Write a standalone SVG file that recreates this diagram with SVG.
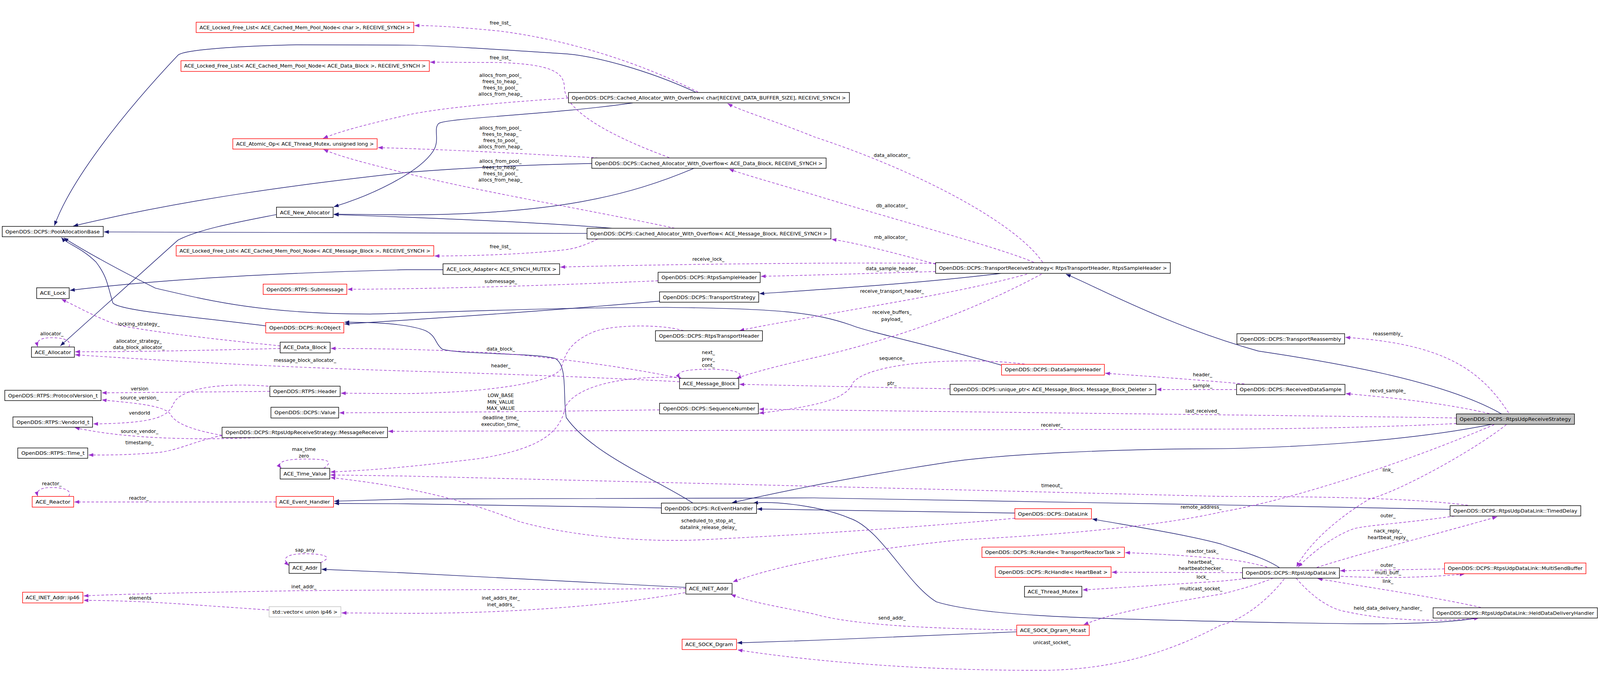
<svg xmlns="http://www.w3.org/2000/svg" width="4323" height="1770" viewBox="0 0 4323 1770" style="width:100%;height:100%" preserveAspectRatio="xMidYMid meet">
<style>
rect{fill:#fff;stroke:#000;stroke-width:1.5}
.r rect{stroke:#ff0000}
.g rect{fill:#bfbfbf}
.v rect{stroke:#bfbfbf}
text{font-family:"DejaVu Sans","Liberation Sans",sans-serif;font-size:13px;text-anchor:middle;fill:#000}
.i{fill:none;stroke:#191970;stroke-width:1.5;marker-end:url(#ab)}
.u{fill:none;stroke:#9a32cd;stroke-width:1.5;stroke-dasharray:7,5;marker-end:url(#ap)}
</style>
<defs>
<marker id="ab" markerWidth="14" markerHeight="10" refX="13" refY="5" orient="auto" markerUnits="userSpaceOnUse"><path d="M0,0L13,5L0,10z" fill="#191970"/></marker>
<marker id="ap" markerWidth="14" markerHeight="10" refX="13" refY="5" orient="auto" markerUnits="userSpaceOnUse"><path d="M0,0L13,5L0,10z" fill="#9a32cd"/></marker>
</defs>
<rect x="0" y="0" width="4323" height="1770" style="fill:#fff;stroke:none"/>
<g id="edges">
<path class="i" d="M1879,200 C1750,140 1600,100 1521,96 C1350,85 1200,75 1100,73 L800,72 C550,78 490,92 481,100 C330,260 190,440 147,561"/>
<path class="i" d="M1710,229 C1500,260 1200,270 1185,285 C1170,300 1190,330 1170,360 C1130,420 1000,480 902,510"/>
<path class="i" d="M1599,393 C1400,397 1250,405 1100,417 C800,450 500,490 198,562"/>
<path class="i" d="M1875,406 C1700,480 1500,530 1100,532 L902,530"/>
<path class="i" d="M1654,568 C1500,555 1250,543 902,531"/>
<path class="i" d="M1586,582 L281,578"/>
<path class="i" d="M747,531 C640,552 540,570 481,600 L163,886"/>
<path class="i" d="M1197,680 L1100,680 C700,690 400,710 189,736"/>
<path class="i" d="M718,832 C500,805 320,790 305,770 C290,720 290,700 260,660 C220,620 180,610 166,593"/>
<path class="i" d="M2705,938 C2500,880 2350,850 2300,830 C2200,795 2100,785 1800,782 C1500,782 1200,795 1000,800 C700,800 550,760 420,730 C320,680 230,630 172,594"/>
<path class="i" d="M1782,765 C1500,790 1200,810 931,827"/>
<path class="i" d="M1872,1311 C1780,1250 1600,1180 1530,1080 C1520,1020 1535,940 1500,920 C1450,905 1250,910 1195,895 C1175,880 1180,860 1150,845 C1100,825 1000,822 931,822"/>
<path class="i" d="M2705,690 C2500,715 2300,728 2052,745"/>
<path class="i" d="M4057,1070 C3900,980 3600,930 3400,900 C3150,830 2950,720 2880,692"/>
<path class="i" d="M4031,1098 C3800,1145 3500,1160 3300,1164 C3000,1164 2700,1180 2565,1200 C2400,1225 2200,1260 1978,1310"/>
<path class="i" d="M1787,1324 L1100,1313 L903,1312"/>
<path class="i" d="M3918,1328 L3300,1316 L2200,1297 L1100,1300 L903,1306"/>
<path class="i" d="M2742,1338 L2046,1327"/>
<path class="i" d="M3992,1622 C3850,1645 3600,1637 3300,1631 C2900,1622 2650,1615 2530,1578 C2450,1530 2380,1380 2296,1352 C2220,1320 2100,1305 2035,1311"/>
<path class="i" d="M3457,1486 C3420,1460 3350,1440 3300,1422 C3200,1395 3050,1372 2951,1354"/>
<path class="i" d="M1853,1539 L1100,1500 L869,1490"/>
<path class="i" d="M2747,1659 L2200,1682 L1992,1689"/>

<path class="u" d="M1886,200 C1750,130 1550,60 1350,35 C1250,25 1180,20 1120,20"/>
<path class="u" d="M1808,377 C1680,330 1530,260 1525,190 C1525,150 1500,125 1350,120 L1162,119"/>
<path class="u" d="M1615,597 C1570,620 1540,625 1520,627 C1400,640 1250,643 1174,643"/>
<path class="u" d="M1536,216 C1400,225 1200,240 1100,262 C1000,285 920,305 873,325"/>
<path class="u" d="M1616,378 C1400,365 1200,355 1021,350"/>
<path class="u" d="M1823,568 C1600,520 1300,470 1100,420 C1000,395 920,375 874,355"/>
<path class="u" d="M2817,660 C2750,560 2500,420 2200,321 C2100,280 2000,250 1966,231"/>
<path class="u" d="M2793,660 C2700,620 2400,540 2200,478 C2100,448 2000,420 1970,408"/>
<path class="u" d="M2528,665 C2400,630 2300,605 2247,598"/>
<path class="u" d="M2528,663 C2300,660 1800,665 1514,673"/>
<path class="u" d="M2528,685 C2350,690 2200,695 2056,698"/>
<path class="u" d="M2775,692 C2600,740 2400,770 2200,807 C2100,825 2040,835 1998,845"/>
<path class="u" d="M2814,692 C2650,780 2450,860 2200,918 C2100,940 2020,962 1990,974"/>
<path class="u" d="M1778,710 C1500,722 1200,732 939,733"/>
<path class="u" d="M1847,845 C1780,825 1640,830 1600,850 C1530,880 1525,920 1515,950 C1480,990 1300,1012 1100,1015 L921,1014"/>
<path class="u" d="M1840,974 C1700,945 1550,925 1400,910 C1200,895 1000,893 894,893"/>
<path class="u" d="M1836,983 C1600,970 1300,960 1100,954 C800,945 500,930 203,910"/>
<path class="u" d="M1991,974 C2010,962 2000,950 1914,949 C1840,950 1825,958 1838,974"/>
<path class="u" d="M1840,972 C1700,965 1560,990 1528,1050 C1515,1110 1480,1160 1300,1190 C1100,1215 1000,1222 893,1227"/>
<path class="u" d="M1782,1059 C1500,1063 1200,1066 917,1067"/>
<path class="u" d="M2768,935 C2600,915 2350,930 2305,985 C2290,1020 2250,1045 2051,1068"/>
<path class="u" d="M2567,1002 C2300,997 2150,993 1998,990"/>
<path class="u" d="M3362,989 C3200,975 3100,968 2986,960"/>
<path class="u" d="M3341,1004 L3125,1004"/>
<path class="u" d="M3935,1081 C3600,1075 2600,1065 2051,1057"/>
<path class="u" d="M3935,1096 C3700,1108 3400,1111 3300,1111 L1049,1117"/>
<path class="u" d="M4076,1067 C4000,950 3900,880 3635,863"/>
<path class="u" d="M4024,1069 C3900,1040 3750,1025 3636,1015"/>
<path class="u" d="M4070,1099 C3980,1170 3780,1280 3700,1300 C3600,1360 3530,1430 3503,1484"/>
<path class="u" d="M4037,1099 C3800,1200 3500,1300 3300,1335 C3100,1380 2800,1400 2600,1410 C2300,1440 2100,1480 1980,1524"/>
<path class="u" d="M757,886 C600,870 420,850 320,830 C260,810 210,780 166,760"/>
<path class="u" d="M757,893 C600,897 400,902 203,902"/>
<path class="u" d="M186,889 C195,870 170,864 140,864 C105,864 98,874 102,889"/>
<path class="u" d="M729,1009 L275,1013"/>
<path class="u" d="M725,995 C600,985 490,1000 470,1040 C455,1075 430,1095 252,1097"/>
<path class="u" d="M600,1128 C500,1110 470,1090 460,1070 C440,1045 350,1040 275,1032"/>
<path class="u" d="M701,1134 C550,1140 350,1140 202,1107"/>
<path class="u" d="M600,1128 C520,1145 480,1170 420,1175 C330,1182 280,1181 239,1181"/>
<path class="u" d="M875,1217 C905,1195 880,1192 824,1192 C770,1192 745,1200 760,1217"/>
<path class="u" d="M3966,1317 C3800,1295 3500,1293 3300,1293 L1100,1238 L893,1235"/>
<path class="u" d="M2742,1352 C2500,1375 2200,1395 1900,1410 C1700,1420 1500,1390 1400,1360 C1250,1300 1100,1265 893,1242"/>
<path class="u" d="M746,1308 L201,1308"/>
<path class="u" d="M186,1293 C195,1275 170,1269 140,1269 C105,1269 98,1279 102,1293"/>
<path class="u" d="M866,1472 C905,1455 870,1448 824,1448 C770,1448 760,1462 781,1480"/>
<path class="u" d="M1853,1542 C1500,1545 1100,1545 800,1548 C500,1553 300,1558 226,1562"/>
<path class="u" d="M727,1600 C500,1585 400,1575 226,1574"/>
<path class="u" d="M1851,1553 C1650,1590 1350,1610 1100,1609 L923,1608"/>
<path class="u" d="M2747,1654 C2500,1650 2300,1640 2200,1611 C2100,1590 2030,1580 1975,1558"/>
<path class="u" d="M3470,1516 C3420,1580 3350,1630 3300,1640 C3150,1720 3000,1760 2830,1763 C2500,1765 2200,1740 1993,1708"/>
<path class="u" d="M3440,1514 C3400,1530 3350,1545 3300,1557 C3100,1590 3000,1610 2928,1640"/>
<path class="u" d="M3378,1514 C3340,1518 3320,1520 3300,1522 L2925,1546"/>
<path class="u" d="M3357,1499 L3004,1498"/>
<path class="u" d="M3424,1484 C3380,1472 3340,1465 3300,1462 C3200,1452 3100,1447 3040,1445"/>
<path class="u" d="M3930,1346 C3800,1365 3700,1370 3659,1380 C3600,1400 3540,1450 3507,1484"/>
<path class="u" d="M3558,1485 C3700,1440 3900,1390 4045,1348"/>
<path class="u" d="M3903,1489 L3621,1494"/>
<path class="u" d="M3623,1509 C3750,1515 3850,1512 3957,1503"/>
<path class="u" d="M4001,1593 C3850,1560 3700,1540 3560,1515"/>
<path class="u" d="M3502,1514 C3550,1570 3600,1600 3640,1605 C3750,1630 3900,1632 3996,1622"/>
</g>
<g id="edge-labels">
<text x="1352" y="17">free_list_</text>
<text x="1352" y="111">free_list_</text>
<text x="1352" y="622">free_list_</text>
<text x="1352" y="159">allocs_from_pool_<tspan x="1352" dy="17">frees_to_heap_</tspan><tspan x="1352" dy="17">frees_to_pool_</tspan><tspan x="1352" dy="17">allocs_from_heap_</tspan></text>
<text x="1352" y="301">allocs_from_pool_<tspan x="1352" dy="17">frees_to_heap_</tspan><tspan x="1352" dy="17">frees_to_pool_</tspan><tspan x="1352" dy="17">allocs_from_heap_</tspan></text>
<text x="1352" y="391">allocs_from_pool_<tspan x="1352" dy="17">frees_to_heap_</tspan><tspan x="1352" dy="17">frees_to_pool_</tspan><tspan x="1352" dy="17">allocs_from_heap_</tspan></text>
<text x="2410" y="375">data_allocator_</text>
<text x="2410" y="511">db_allocator_</text>
<text x="2407" y="597">mb_allocator_</text>
<text x="1914" y="656">receive_lock_</text>
<text x="2410" y="681">data_sample_header_</text>
<text x="1353" y="716">submessage_</text>
<text x="2410" y="743">receive_transport_header_</text>
<text x="2410" y="800">receive_buffers_<tspan x="2410" dy="18">payload_</tspan></text>
<text x="375" y="831">locking_strategy_</text>
<text x="140" y="858">allocator_</text>
<text x="375" y="878">allocator_strategy_<tspan x="375" dy="17">data_block_allocator_</tspan></text>
<text x="1353" y="899">data_block_</text>
<text x="1914" y="908">next_<tspan x="1914" dy="18">prev_</tspan><tspan x="1914" dy="17">cont_</tspan></text>
<text x="2410" y="924">sequence_</text>
<text x="824" y="929">message_block_allocator_</text>
<text x="1353" y="944">header_</text>
<text x="3249" y="968">header_</text>
<text x="2410" y="992">ptr_</text>
<text x="3249" y="998">sample_</text>
<text x="377" y="1006">version</text>
<text x="3750" y="858">reassembly_</text>
<text x="3750" y="1012">recvd_sample_</text>
<text x="1353" y="1024">LOW_BASE<tspan x="1353" dy="18">MIN_VALUE</tspan><tspan x="1353" dy="17">MAX_VALUE</tspan></text>
<text x="377" y="1031">source_version_</text>
<text x="3249" y="1067">last_received_</text>
<text x="377" y="1072">vendorId</text>
<text x="1353" y="1084">deadline_time_<tspan x="1353" dy="18">execution_time_</tspan></text>
<text x="2842" y="1105">receiver_</text>
<text x="377" y="1121">source_vendor_</text>
<text x="377" y="1152">timestamp_</text>
<text x="821" y="1170">max_time<tspan x="821" dy="18">zero</tspan></text>
<text x="3750" y="1226">link_</text>
<text x="140" y="1263">reactor_</text>
<text x="2842" y="1268">timeout_</text>
<text x="375" y="1302">reactor_</text>
<text x="3245" y="1326">remote_address_</text>
<text x="3750" y="1349">outer_</text>
<text x="1914" y="1363">scheduled_to_stop_at_<tspan x="1914" dy="18">datalink_release_delay_</tspan></text>
<text x="3750" y="1391">nack_reply_<tspan x="3750" dy="18">heartbeat_reply_</tspan></text>
<text x="824" y="1442">sap_any</text>
<text x="3249" y="1445">reactor_task_</text>
<text x="3245" y="1475">heartbeat_<tspan x="3245" dy="17">heartbeatchecker_</tspan></text>
<text x="3750" y="1483">outer_</text>
<text x="3750" y="1504">multi_buff_</text>
<text x="3249" y="1515">lock_</text>
<text x="3750" y="1527">link_</text>
<text x="821" y="1542">inet_addr_</text>
<text x="3245" y="1547">multicast_socket_</text>
<text x="379" y="1572">elements</text>
<text x="1353" y="1572">inet_addrs_iter_<tspan x="1353" dy="18">inet_addrs_</tspan></text>
<text x="3750" y="1600">held_data_delivery_handler_</text>
<text x="2410" y="1626">send_addr_</text>
<text x="2842" y="1692">unicast_socket_</text>
</g>
<g id="n1" class="r"><rect x="530" y="11" width="588" height="28"/><text x="824" y="30" textLength="570" lengthAdjust="spacingAndGlyphs">ACE_Locked_Free_List&lt; ACE_Cached_Mem_Pool_Node&lt; char &gt;, RECEIVE_SYNCH &gt;</text></g>
<g id="n2" class="r"><rect x="489" y="115" width="671" height="29"/><text x="824" y="134" textLength="653" lengthAdjust="spacingAndGlyphs">ACE_Locked_Free_List&lt; ACE_Cached_Mem_Pool_Node&lt; ACE_Data_Block &gt;, RECEIVE_SYNCH &gt;</text></g>
<g id="n3" class="r"><rect x="629" y="326" width="390" height="28"/><text x="824" y="345" textLength="372" lengthAdjust="spacingAndGlyphs">ACE_Atomic_Op&lt; ACE_Thread_Mutex, unsigned long &gt;</text></g>
<g id="n4"><rect x="747" y="511" width="153" height="28"/><text x="824" y="530" textLength="135" lengthAdjust="spacingAndGlyphs">ACE_New_Allocator</text></g>
<g id="n5"><rect x="6" y="563" width="273" height="28"/><text x="142" y="582" textLength="255" lengthAdjust="spacingAndGlyphs">OpenDDS::DCPS::PoolAllocationBase</text></g>
<g id="n6"><rect x="1536" y="201" width="759" height="28"/><text x="1915" y="220" textLength="741" lengthAdjust="spacingAndGlyphs">OpenDDS::DCPS::Cached_Allocator_With_Overflow&lt; char[RECEIVE_DATA_BUFFER_SIZE], RECEIVE_SYNCH &gt;</text></g>
<g id="n7"><rect x="1599" y="378" width="633" height="28"/><text x="1915" y="397" textLength="615" lengthAdjust="spacingAndGlyphs">OpenDDS::DCPS::Cached_Allocator_With_Overflow&lt; ACE_Data_Block, RECEIVE_SYNCH &gt;</text></g>
<g id="n8"><rect x="1586" y="568" width="659" height="29"/><text x="1915" y="587" textLength="641" lengthAdjust="spacingAndGlyphs">OpenDDS::DCPS::Cached_Allocator_With_Overflow&lt; ACE_Message_Block, RECEIVE_SYNCH &gt;</text></g>
<g id="n9" class="r"><rect x="476" y="615" width="696" height="28"/><text x="824" y="634" textLength="678" lengthAdjust="spacingAndGlyphs">ACE_Locked_Free_List&lt; ACE_Cached_Mem_Pool_Node&lt; ACE_Message_Block &gt;, RECEIVE_SYNCH &gt;</text></g>
<g id="n10"><rect x="99" y="729" width="88" height="29"/><text x="143" y="748" textLength="70" lengthAdjust="spacingAndGlyphs">ACE_Lock</text></g>
<g id="n11"><rect x="85" y="889" width="116" height="28"/><text x="143" y="908" textLength="98" lengthAdjust="spacingAndGlyphs">ACE_Allocator</text></g>
<g id="n12" class="r"><rect x="718" y="823" width="211" height="28"/><text x="824" y="842" textLength="193" lengthAdjust="spacingAndGlyphs">OpenDDS::DCPS::RcObject</text></g>
<g id="n13"><rect x="757" y="876" width="135" height="29"/><text x="824" y="895" textLength="117" lengthAdjust="spacingAndGlyphs">ACE_Data_Block</text></g>
<g id="n14" class="r"><rect x="711" y="719" width="226" height="28"/><text x="824" y="738" textLength="208" lengthAdjust="spacingAndGlyphs">OpenDDS::RTPS::Submessage</text></g>
<g id="n15"><rect x="13" y="1006" width="260" height="28"/><text x="143" y="1025" textLength="242" lengthAdjust="spacingAndGlyphs">OpenDDS::RTPS::ProtocolVersion_t</text></g>
<g id="n16"><rect x="729" y="995" width="190" height="28"/><text x="824" y="1014" textLength="172" lengthAdjust="spacingAndGlyphs">OpenDDS::RTPS::Header</text></g>
<g id="n17"><rect x="732" y="1052" width="183" height="29"/><text x="824" y="1071" textLength="165" lengthAdjust="spacingAndGlyphs">OpenDDS::DCPS::Value</text></g>
<g id="n18"><rect x="35" y="1078" width="215" height="28"/><text x="143" y="1097" textLength="197" lengthAdjust="spacingAndGlyphs">OpenDDS::RTPS::VendorId_t</text></g>
<g id="n19"><rect x="600" y="1106" width="447" height="28"/><text x="824" y="1125" textLength="429" lengthAdjust="spacingAndGlyphs">OpenDDS::DCPS::RtpsUdpReceiveStrategy::MessageReceiver</text></g>
<g id="n20"><rect x="48" y="1162" width="189" height="28"/><text x="143" y="1181" textLength="171" lengthAdjust="spacingAndGlyphs">OpenDDS::RTPS::Time_t</text></g>
<g id="n21"><rect x="1197" y="664" width="315" height="29"/><text x="1355" y="683" textLength="297" lengthAdjust="spacingAndGlyphs">ACE_Lock_Adapter&lt; ACE_SYNCH_MUTEX &gt;</text></g>
<g id="n22"><rect x="1778" y="687" width="276" height="28"/><text x="1916" y="706" textLength="258" lengthAdjust="spacingAndGlyphs">OpenDDS::DCPS::RtpsSampleHeader</text></g>
<g id="n23"><rect x="1782" y="740" width="268" height="28"/><text x="1916" y="759" textLength="250" lengthAdjust="spacingAndGlyphs">OpenDDS::DCPS::TransportStrategy</text></g>
<g id="n24"><rect x="1771" y="845" width="289" height="28"/><text x="1916" y="864" textLength="271" lengthAdjust="spacingAndGlyphs">OpenDDS::DCPS::RtpsTransportHeader</text></g>
<g id="n25"><rect x="1836" y="974" width="160" height="28"/><text x="1916" y="993" textLength="142" lengthAdjust="spacingAndGlyphs">ACE_Message_Block</text></g>
<g id="n26"><rect x="1782" y="1041" width="267" height="29"/><text x="1916" y="1060" textLength="249" lengthAdjust="spacingAndGlyphs">OpenDDS::DCPS::SequenceNumber</text></g>
<g id="n27"><rect x="2528" y="661" width="634" height="29"/><text x="2845" y="680" textLength="616" lengthAdjust="spacingAndGlyphs">OpenDDS::DCPS::TransportReceiveStrategy&lt; RtpsTransportHeader, RtpsSampleHeader &gt;</text></g>
<g id="n28" class="r"><rect x="2706" y="936" width="278" height="29"/><text x="2845" y="955" textLength="260" lengthAdjust="spacingAndGlyphs">OpenDDS::DCPS::DataSampleHeader</text></g>
<g id="n29"><rect x="2567" y="990" width="556" height="28"/><text x="2845" y="1009" textLength="538" lengthAdjust="spacingAndGlyphs">OpenDDS::DCPS::unique_ptr&lt; ACE_Message_Block, Message_Block_Deleter &gt;</text></g>
<g id="n30"><rect x="3342" y="853" width="291" height="28"/><text x="3487" y="872" textLength="273" lengthAdjust="spacingAndGlyphs">OpenDDS::DCPS::TransportReassembly</text></g>
<g id="n31"><rect x="3341" y="990" width="293" height="28"/><text x="3487" y="1009" textLength="275" lengthAdjust="spacingAndGlyphs">OpenDDS::DCPS::ReceivedDataSample</text></g>
<g id="n32" class="g"><rect x="3935" y="1070" width="319" height="28"/><text x="4094" y="1089" textLength="301" lengthAdjust="spacingAndGlyphs">OpenDDS::DCPS::RtpsUdpReceiveStrategy</text></g>
<g id="n33"><rect x="757" y="1217" width="134" height="29"/><text x="824" y="1236" textLength="116" lengthAdjust="spacingAndGlyphs">ACE_Time_Value</text></g>
<g id="n34" class="r"><rect x="87" y="1293" width="112" height="29"/><text x="143" y="1312" textLength="94" lengthAdjust="spacingAndGlyphs">ACE_Reactor</text></g>
<g id="n35" class="r"><rect x="746" y="1293" width="155" height="29"/><text x="823" y="1312" textLength="137" lengthAdjust="spacingAndGlyphs">ACE_Event_Handler</text></g>
<g id="n36"><rect x="781" y="1472" width="86" height="29"/><text x="824" y="1491" textLength="68" lengthAdjust="spacingAndGlyphs">ACE_Addr</text></g>
<g id="n37" class="r"><rect x="61" y="1552" width="163" height="29"/><text x="142" y="1571" textLength="145" lengthAdjust="spacingAndGlyphs">ACE_INET_Addr::ip46</text></g>
<g id="n38" class="v"><rect x="727" y="1591" width="194" height="28"/><text x="824" y="1610" textLength="176" lengthAdjust="spacingAndGlyphs">std::vector&lt; union ip46 &gt;</text></g>
<g id="n39"><rect x="1787" y="1311" width="257" height="28"/><text x="1915" y="1330" textLength="239" lengthAdjust="spacingAndGlyphs">OpenDDS::DCPS::RcEventHandler</text></g>
<g id="n40"><rect x="1853" y="1528" width="125" height="29"/><text x="1915" y="1547" textLength="107" lengthAdjust="spacingAndGlyphs">ACE_INET_Addr</text></g>
<g id="n41" class="r"><rect x="1843" y="1679" width="147" height="28"/><text x="1916" y="1698" textLength="129" lengthAdjust="spacingAndGlyphs">ACE_SOCK_Dgram</text></g>
<g id="n42" class="r"><rect x="2742" y="1326" width="207" height="28"/><text x="2845" y="1345" textLength="189" lengthAdjust="spacingAndGlyphs">OpenDDS::DCPS::DataLink</text></g>
<g id="n43" class="r"><rect x="2653" y="1430" width="385" height="28"/><text x="2845" y="1449" textLength="367" lengthAdjust="spacingAndGlyphs">OpenDDS::DCPS::RcHandle&lt; TransportReactorTask &gt;</text></g>
<g id="n44" class="r"><rect x="2689" y="1483" width="313" height="29"/><text x="2845" y="1502" textLength="295" lengthAdjust="spacingAndGlyphs">OpenDDS::DCPS::RcHandle&lt; HeartBeat &gt;</text></g>
<g id="n45"><rect x="2768" y="1536" width="155" height="29"/><text x="2845" y="1555" textLength="137" lengthAdjust="spacingAndGlyphs">ACE_Thread_Mutex</text></g>
<g id="n46" class="r"><rect x="2747" y="1641" width="196" height="28"/><text x="2845" y="1660" textLength="178" lengthAdjust="spacingAndGlyphs">ACE_SOCK_Dgram_Mcast</text></g>
<g id="n47"><rect x="3918" y="1318" width="353" height="28"/><text x="4094" y="1337" textLength="335" lengthAdjust="spacingAndGlyphs">OpenDDS::DCPS::RtpsUdpDataLink::TimedDelay</text></g>
<g id="n48"><rect x="3357" y="1486" width="262" height="28"/><text x="3488" y="1505" textLength="244" lengthAdjust="spacingAndGlyphs">OpenDDS::DCPS::RtpsUdpDataLink</text></g>
<g id="n49" class="r"><rect x="3903" y="1473" width="382" height="29"/><text x="4094" y="1492" textLength="364" lengthAdjust="spacingAndGlyphs">OpenDDS::DCPS::RtpsUdpDataLink::MultiSendBuffer</text></g>
<g id="n50"><rect x="3872" y="1594" width="444" height="28"/><text x="4094" y="1613" textLength="426" lengthAdjust="spacingAndGlyphs">OpenDDS::DCPS::RtpsUdpDataLink::HeldDataDeliveryHandler</text></g>
</svg>
